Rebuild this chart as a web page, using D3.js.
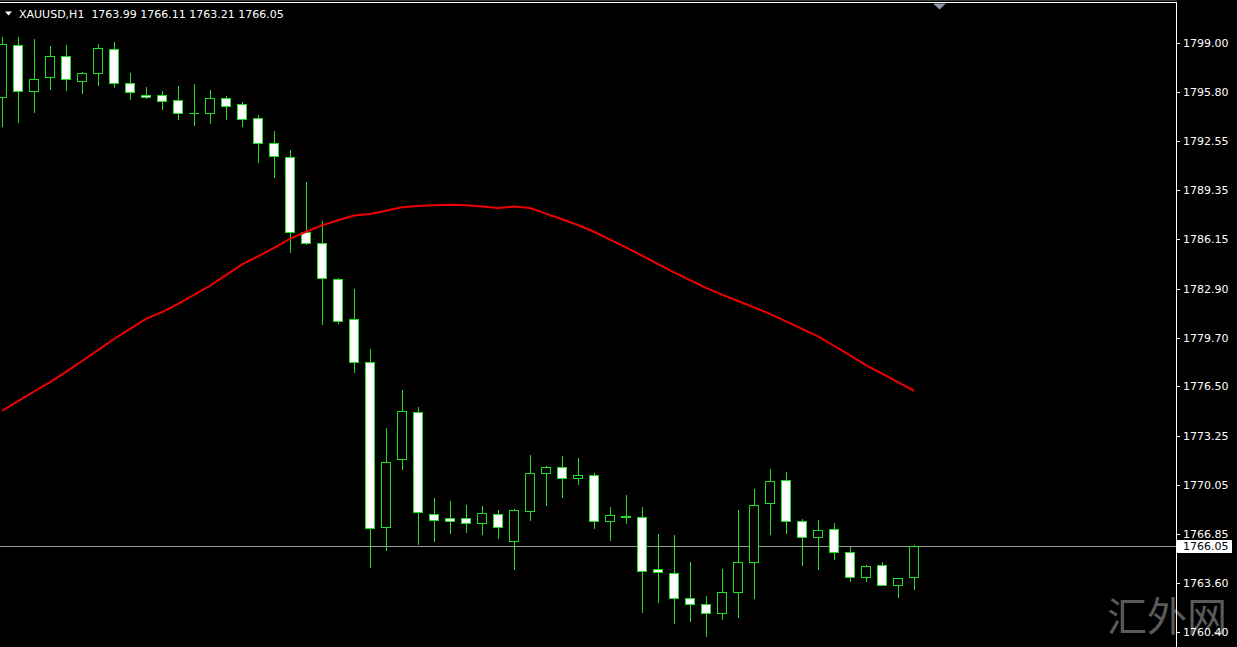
<!DOCTYPE html>
<html>
<head>
<meta charset="utf-8">
<script src="https://cdn.jsdelivr.net/npm/d3@7"></script>
<style>
  html, body { margin: 0; padding: 0; background: #000; overflow: hidden; }
  svg { display: block; }
  text { font-family: "DejaVu Sans", sans-serif; }
</style>
</head>
<body>
<div id="chart"></div>
<script>
// header: symbol + last bar OHLC
var symbol = "XAUUSD,H1"
var lastBar = ["1763.99", "1766.11", "1763.21", "1766.05"]
var lastPrice = 1766.05

// hourly bars, oldest first
var opens = [1795.46, 1798.87, 1795.86, 1796.77, 1798.15, 1796.51, 1797.04, 1798.61, 1796.38, 1795.56,
  1795.56, 1795.27, 1794.41, 1794.41, 1795.40, 1795.00, 1794.09, 1792.45, 1791.53, 1786.62,
  1785.89, 1783.53, 1780.91, 1778.10, 1767.28, 1771.74, 1774.82, 1768.13, 1767.87, 1767.87,
  1767.54, 1768.13, 1766.36, 1768.33, 1770.82, 1771.21, 1770.49, 1770.69, 1767.67, 1767.94,
  1767.94, 1764.53, 1764.27, 1762.63, 1762.23, 1761.64, 1763.02, 1764.99, 1768.85, 1770.36,
  1767.67, 1766.63, 1767.15, 1765.64, 1764.00, 1764.79, 1763.48, 1763.99]
var highs = [1799.39, 1799.39, 1799.26, 1798.81, 1798.87, 1797.10, 1798.94, 1799.07, 1797.04, 1796.12,
  1795.86, 1796.18, 1796.32, 1795.92, 1795.53, 1795.14, 1794.28, 1793.23, 1791.99, 1789.89,
  1787.34, 1783.60, 1782.88, 1778.95, 1773.77, 1776.26, 1775.15, 1769.18, 1768.98, 1768.72,
  1768.66, 1768.40, 1768.46, 1772.00, 1771.28, 1771.93, 1771.80, 1770.82, 1768.59, 1769.38,
  1768.59, 1766.82, 1766.76, 1764.99, 1762.76, 1764.53, 1768.40, 1769.77, 1771.08, 1770.89,
  1767.81, 1767.74, 1767.54, 1765.97, 1764.79, 1764.99, 1763.96, 1766.11]
var lows = [1793.56, 1793.82, 1794.48, 1795.99, 1795.92, 1795.73, 1796.25, 1796.12, 1795.33, 1795.40,
  1794.68, 1794.02, 1793.63, 1793.76, 1794.02, 1793.56, 1791.20, 1790.22, 1785.30, 1785.83,
  1780.59, 1780.65, 1777.44, 1764.66, 1765.77, 1771.08, 1766.17, 1766.36, 1766.89, 1766.95,
  1766.82, 1766.56, 1764.53, 1767.74, 1768.72, 1769.25, 1770.10, 1767.22, 1766.43, 1767.52,
  1761.71, 1762.37, 1760.99, 1761.12, 1760.14, 1761.25, 1761.38, 1762.63, 1766.82, 1766.89,
  1764.79, 1764.53, 1765.18, 1763.74, 1763.74, 1763.48, 1762.69, 1763.21]
var closes = [1798.94, 1795.86, 1796.64, 1798.15, 1796.64, 1797.04, 1798.67, 1796.38, 1795.79, 1795.43,
  1795.23, 1794.41, 1794.41, 1795.40, 1794.87, 1794.02, 1792.45, 1791.60, 1786.62, 1785.89,
  1783.60, 1780.78, 1778.10, 1767.22, 1771.54, 1774.88, 1768.26, 1767.74, 1767.67, 1767.54,
  1768.20, 1767.28, 1768.40, 1770.82, 1771.21, 1770.49, 1770.69, 1767.67, 1768.07, 1768.03,
  1764.40, 1764.33, 1762.63, 1762.23, 1761.64, 1763.02, 1764.99, 1768.72, 1770.30, 1767.67,
  1766.63, 1767.08, 1765.64, 1764.00, 1764.73, 1763.48, 1763.94, 1766.05]

// moving average (red)
var maValues = [1774.90, 1775.53, 1776.16, 1776.78, 1777.45, 1778.16, 1778.87, 1779.60, 1780.26, 1780.92,
  1781.36, 1781.90, 1782.49, 1783.09, 1783.79, 1784.49, 1785.02, 1785.58, 1786.17, 1786.63,
  1787.05, 1787.38, 1787.70, 1787.79, 1788.01, 1788.23, 1788.31, 1788.37, 1788.40, 1788.37,
  1788.29, 1788.18, 1788.28, 1788.19, 1787.82, 1787.45, 1787.07, 1786.63, 1786.12, 1785.61,
  1785.07, 1784.51, 1783.97, 1783.46, 1782.95, 1782.51, 1782.09, 1781.67, 1781.25, 1780.76,
  1780.26, 1779.77, 1779.16, 1778.53, 1777.89, 1777.33, 1776.77, 1776.21]

var priceTicks = ["1799.00", "1795.80", "1792.55", "1789.35", "1786.15", "1782.90", "1779.70",
  "1776.50", "1773.25", "1770.05", "1766.85", "1763.60", "1760.40"]

var width = 1237
var height = 647
var plotRight = 1176
var green = "#1fe01f"

var svg = d3.select("#chart")
  .append("svg")
    .attr("width", width)
    .attr("height", height)

svg.append("rect")
    .attr("width", width)
    .attr("height", height)
    .attr("fill", "#000")

var x = d3.scaleLinear()
  .domain([0, opens.length - 1])
  .range([2, 914])

var y = d3.scaleLinear()
  .domain([1760.40, 1799.00])
  .range([632, 43])

function snap(v) { return Math.round(v) + 0.5 }

// watermark
svg.append("text")
    .attr("x", 1107)
    .attr("y", 631)
    .attr("fill", "#5a5a5a")
    .style("font-family", "'Noto Sans CJK SC', sans-serif")
    .style("font-size", "40px")
    .text("汇外网")

// last price line
svg.append("line")
    .attr("x1", 0)
    .attr("x2", plotRight)
    .attr("y1", snap(y(lastPrice)))
    .attr("y2", snap(y(lastPrice)))
    .attr("stroke", "#9a9a9a")
    .attr("stroke-width", 1)

// candles
var idx = d3.range(opens.length)
var candle = svg.append("g")
  .selectAll("g")
  .data(idx)
  .enter()
  .append("g")

candle.append("line")
    .attr("x1", function(i){ return Math.round(x(i)) + 0.5 })
    .attr("x2", function(i){ return Math.round(x(i)) + 0.5 })
    .attr("y1", function(i){ return Math.round(y(highs[i])) })
    .attr("y2", function(i){ return Math.round(y(lows[i])) + 1 })
    .attr("stroke", green)
    .attr("stroke-width", 1)

candle.each(function(i){
  var g = d3.select(this)
  var cx = Math.round(x(i))
  var top = snap(y(Math.max(opens[i], closes[i])))
  var bot = snap(y(Math.min(opens[i], closes[i])))
  if (bot - top < 1) {
    g.append("line")
        .attr("x1", cx - 5)
        .attr("x2", cx + 5)
        .attr("y1", top)
        .attr("y2", top)
        .attr("stroke", green)
        .attr("stroke-width", 1)
  } else {
    g.append("rect")
        .attr("x", cx - 4.5)
        .attr("y", top)
        .attr("width", 9)
        .attr("height", bot - top)
        .attr("fill", closes[i] >= opens[i] ? "#000" : "#fff")
        .attr("stroke", green)
        .attr("stroke-width", 1)
  }
})

// moving average
var maLine = d3.line()
  .x(function(d, i){ return x(i) })
  .y(function(d){ return y(d) })
  .curve(d3.curveLinear)

svg.append("path")
    .datum(maValues)
    .attr("d", maLine)
    .attr("fill", "none")
    .attr("stroke", "#f00000")
    .attr("stroke-width", 2)

// frame
svg.append("line")
    .attr("x1", 0).attr("x2", plotRight + 1)
    .attr("y1", 0.5).attr("y2", 0.5)
    .attr("stroke", "#3a3a3a")
svg.append("line")
    .attr("x1", 0).attr("x2", plotRight + 1)
    .attr("y1", 2.5).attr("y2", 2.5)
    .attr("stroke", "#fff")
svg.append("line")
    .attr("x1", plotRight + 0.5).attr("x2", plotRight + 0.5)
    .attr("y1", 2).attr("y2", height)
    .attr("stroke", "#fff")

// shift marker
svg.append("path")
    .attr("d", "M933,3.5 L946,3.5 L939.5,9.5 Z")
    .attr("fill", "#8d99a6")

// price axis
var axis = svg.append("g")
  .selectAll("g")
  .data(priceTicks)
  .enter()
  .append("g")
    .attr("transform", function(d){ return "translate(0," + snap(y(+d)) + ")" })

axis.append("line")
    .attr("x1", plotRight + 1)
    .attr("x2", plotRight + 4)
    .attr("stroke", "#fff")

axis.append("text")
    .attr("x", 1183)
    .attr("dy", "0.36em")
    .attr("fill", "#fff")
    .style("font-size", "11px")
    .text(function(d){ return d })

// last price tag
var tagY = snap(y(lastPrice))
svg.append("rect")
    .attr("x", plotRight + 1)
    .attr("y", tagY - 6.5)
    .attr("width", 55)
    .attr("height", 13)
    .attr("fill", "#fff")
svg.append("text")
    .attr("x", 1183)
    .attr("y", tagY)
    .attr("dy", "0.36em")
    .attr("fill", "#000")
    .style("font-size", "11px")
    .text(lastPrice.toFixed(2))

// header
svg.append("path")
    .attr("d", "M5,11.5 L12,11.5 L8.5,15.5 Z")
    .attr("fill", "#fff")
svg.append("text")
    .attr("x", 19)
    .attr("y", 18)
    .attr("fill", "#fff")
    .attr("xml:space", "preserve")
    .style("font-size", "11px")
    .style("white-space", "pre")
    .text(symbol + "  " + lastBar.join(" "))
</script>
</body>
</html>
